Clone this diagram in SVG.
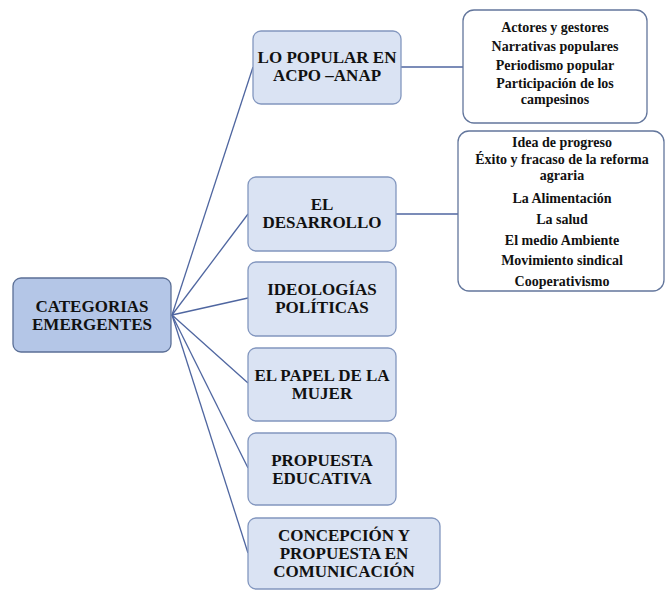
<svg xmlns="http://www.w3.org/2000/svg" width="665" height="590" viewBox="0 0 665 590">
<style>
.bg{fill:#ffffff}
.hub{fill:#b4c6e7;stroke:#5b6f96;stroke-width:1.3}
.leaf{fill:#dae3f3;stroke:#8397bf;stroke-width:1.3}
.list{fill:#ffffff;stroke:#63769c;stroke-width:1.3}
.conn line{stroke:#4f66a0;stroke-width:1.3;fill:none}
text{font-family:'Liberation Serif','DejaVu Serif','Times New Roman',Times,serif;font-weight:700;fill:#111;text-anchor:middle}
.t{font-size:17px}
.s{font-size:14px}
</style>
<rect class="bg" x="0" y="0" width="665" height="590"/>
<g id="connectors" class="conn">
<line x1="172" y1="315" x2="253" y2="67"/>
<line x1="172" y1="315" x2="248" y2="214"/>
<line x1="172" y1="315" x2="248" y2="298"/>
<line x1="172" y1="315" x2="248" y2="383"/>
<line x1="172" y1="315" x2="248" y2="468"/>
<line x1="172" y1="315" x2="248" y2="553"/>
<line x1="401" y1="67" x2="463" y2="67"/>
<line x1="396" y1="214" x2="458" y2="214"/>
</g>
<g id="categorias">
<rect class="hub" x="13" y="278" width="158" height="74" rx="8"/>
<text class="t" x="92" y="312">CATEGORIAS</text>
<text class="t" x="92" y="330">EMERGENTES</text>
</g>
<g id="lo-popular">
<rect class="leaf" x="253" y="31" width="148" height="73" rx="8"/>
<text class="t" x="327" y="63">LO POPULAR EN</text>
<text class="t" x="327" y="81">ACPO –ANAP</text>
</g>
<g id="desarrollo">
<rect class="leaf" x="248" y="177" width="148" height="74" rx="8"/>
<text class="t" x="322" y="210">EL</text>
<text class="t" x="322" y="228">DESARROLLO</text>
</g>
<g id="ideologias">
<rect class="leaf" x="248" y="262" width="148" height="74" rx="8"/>
<text class="t" x="322" y="295">IDEOLOGÍAS</text>
<text class="t" x="322" y="313">POLÍTICAS</text>
</g>
<g id="mujer">
<rect class="leaf" x="248" y="348" width="148" height="73" rx="8"/>
<text class="t" x="322" y="381">EL PAPEL DE LA</text>
<text class="t" x="322" y="399">MUJER</text>
</g>
<g id="educativa">
<rect class="leaf" x="248" y="433" width="148" height="72" rx="8"/>
<text class="t" x="322" y="466">PROPUESTA</text>
<text class="t" x="322" y="484">EDUCATIVA</text>
</g>
<g id="comunicacion">
<rect class="leaf" x="248" y="518" width="192" height="71" rx="8"/>
<text class="t" x="344" y="541">CONCEPCIÓN Y</text>
<text class="t" x="344" y="559">PROPUESTA EN</text>
<text class="t" x="344" y="577">COMUNICACIÓN</text>
</g>
<g id="lista-popular">
<rect class="list" x="463" y="10" width="184" height="113" rx="11"/>
<text class="s" x="555" y="32">Actores y gestores</text>
<text class="s" x="555" y="51">Narrativas populares</text>
<text class="s" x="555" y="70">Periodismo popular</text>
<text class="s" x="555" y="88">Participación de los</text>
<text class="s" x="555" y="104">campesinos</text>
</g>
<g id="lista-desarrollo">
<rect class="list" x="458" y="131" width="206" height="160" rx="11"/>
<text class="s" x="562" y="147">Idea de progreso</text>
<text class="s" x="562" y="164">Éxito y fracaso de la reforma</text>
<text class="s" x="562" y="180">agraria</text>
<text class="s" x="562" y="203">La Alimentación</text>
<text class="s" x="562" y="224">La salud</text>
<text class="s" x="562" y="245">El medio Ambiente</text>
<text class="s" x="562" y="265">Movimiento sindical</text>
<text class="s" x="562" y="286">Cooperativismo</text>
</g>
</svg>
